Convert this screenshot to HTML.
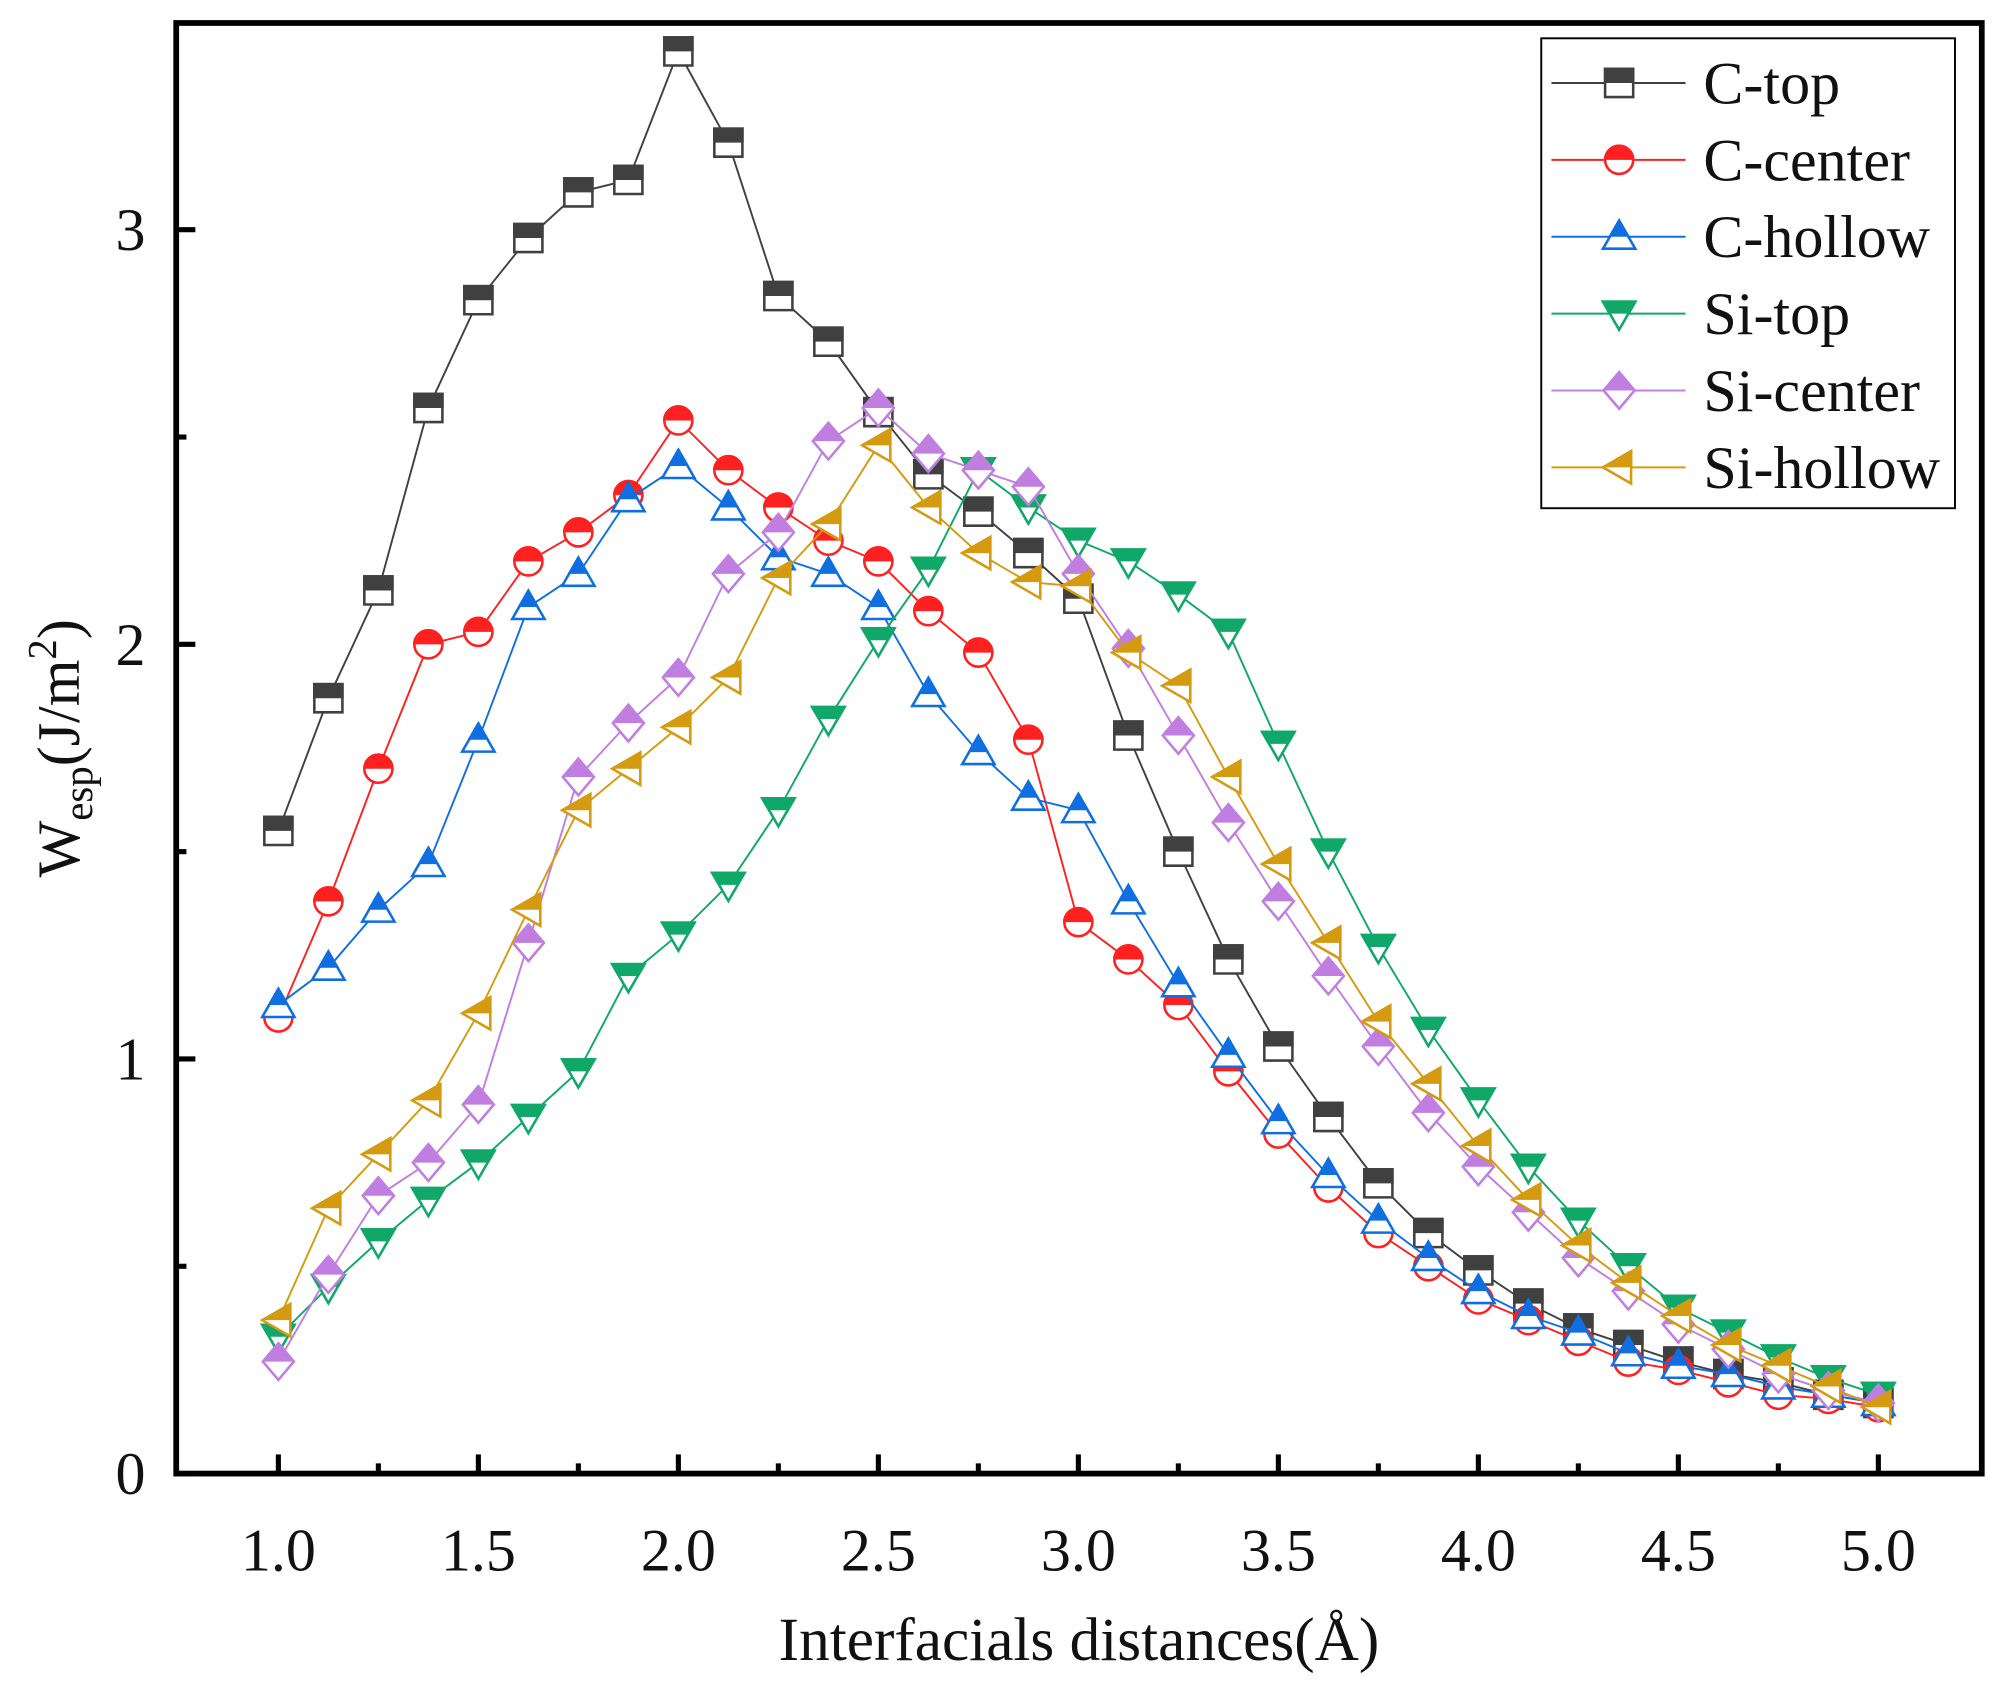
<!DOCTYPE html>
<html><head><meta charset="utf-8"><style>
html,body{margin:0;padding:0;background:#fff}
svg{display:block}
text{font-family:"Liberation Serif",serif;fill:#111}
</style></head><body>
<svg id="chart" width="1992" height="1683" viewBox="0 0 1560 1318" preserveAspectRatio="none" xmlns="http://www.w3.org/2000/svg">
<defs></defs>
<g id="series"></g>
<g id="axes"></g>
<g id="legend"></g>
</svg>
<script>
const xs=[1.0,1.125,1.25,1.375,1.5,1.625,1.75,1.875,2.0,2.125,2.25,2.375,2.5,2.625,2.75,2.875,3.0,3.125,3.25,3.375,3.5,3.625,3.75,3.875,4.0,4.125,4.25,4.375,4.5,4.625,4.75,4.875,5.0];
const cTop=[1.55,1.87,2.13,2.57,2.83,2.98,3.09,3.12,3.43,3.21,2.84,2.73,2.56,2.41,2.32,2.22,2.11,1.78,1.50,1.24,1.03,0.86,0.70,0.58,0.49,0.41,0.35,0.31,0.27,0.24,0.22,0.19,0.17];
const cCenter=[1.10,1.38,1.70,2.00,2.03,2.20,2.27,2.36,2.54,2.42,2.33,2.25,2.20,2.08,1.98,1.77,1.33,1.24,1.13,0.97,0.82,0.69,0.58,0.50,0.42,0.37,0.32,0.27,0.25,0.22,0.19,0.18,0.16];
const cHollow=[1.13,1.22,1.36,1.47,1.77,2.09,2.17,2.35,2.43,2.33,2.21,2.17,2.09,1.88,1.74,1.63,1.60,1.38,1.18,1.01,0.85,0.72,0.61,0.52,0.44,0.38,0.34,0.29,0.26,0.24,0.21,0.19,0.17];
const siTop=[0.33,0.45,0.56,0.66,0.75,0.86,0.97,1.20,1.30,1.42,1.60,1.82,2.01,2.18,2.42,2.33,2.25,2.20,2.12,2.03,1.76,1.50,1.27,1.07,0.90,0.74,0.61,0.50,0.40,0.34,0.28,0.23,0.19];
const siCenter=[0.27,0.48,0.67,0.75,0.89,1.28,1.68,1.81,1.92,2.17,2.27,2.49,2.57,2.46,2.42,2.38,2.17,1.99,1.78,1.57,1.38,1.20,1.03,0.87,0.74,0.63,0.52,0.44,0.36,0.30,0.24,0.20,0.17];
const siHollow=[0.37,0.64,0.77,0.90,1.11,1.36,1.60,1.70,1.80,1.92,2.16,2.29,2.48,2.33,2.22,2.15,2.14,1.98,1.90,1.68,1.47,1.28,1.09,0.94,0.79,0.66,0.55,0.46,0.38,0.31,0.26,0.21,0.16];
const seriesNames=["C-top","C-center","C-hollow","Si-top","Si-center","Si-hollow"];
const seriesColors=["#404040","#ff2020","#0f6fe0","#10a868","#c07ee0","#d49a10"];
const seriesShapes=["square","circle","up","down","diamond","left"];
const xTicks=[1.0,1.5,2.0,2.5,3.0,3.5,4.0,4.5,5.0];
const xTickLabels=["1.0","1.5","2.0","2.5","3.0","3.5","4.0","4.5","5.0"];
const yTicks=[0,1,2,3];
const yTickLabels=["0","1","2","3"];
const yMinor=[0.5,1.5,2.5];
const allData=[cTop,cCenter,cHollow,siTop,siCenter,siHollow];

const NS="http://www.w3.org/2000/svg";
const L=138,R=1552,T=18,B=1154;
const sx=v=>218+(v-1)*(1471-218)/4;
const sy=v=>B-v*324.7;
function mk(tag,attrs,parent){const e=document.createElementNS(NS,tag);for(const k in attrs)e.setAttribute(k,attrs[k]);parent.appendChild(e);return e;}
let clipId=0;
const defs=document.querySelector('defs');
function shapePath(shape,x,y,s){
  if(shape==="square")return `M${x-s},${y-s}H${x+s}V${y+s}H${x-s}Z`;
  if(shape==="circle")return `M${x-s},${y}A${s},${s} 0 1 0 ${x+s},${y}A${s},${s} 0 1 0 ${x-s},${y}Z`;
  if(shape==="up")return `M${x},${y-s*1.15}L${x+s*1.15},${y+s*0.85}H${x-s*1.15}Z`;
  if(shape==="down")return `M${x},${y+s*1.15}L${x+s*1.15},${y-s*0.85}H${x-s*1.15}Z`;
  if(shape==="diamond")return `M${x},${y-s*1.3}L${x+s*1.1},${y}L${x},${y+s*1.3}L${x-s*1.1},${y}Z`;
  if(shape==="left")return `M${x-s*1.15},${y}L${x+s*0.85},${y-s*1.15}V${y+s*1.15}Z`;
}
function marker(shape,color,x,y,parent,name){
  const g=mk('g',{},parent);
  
  
  const s=11;
  const d=shapePath(shape,x,y,s);
  mk('path',{d:d,fill:'#fff',stroke:color,'stroke-width':2},g);
  const id='c'+(clipId++);
  const cp=mk('clipPath',{id:id},defs);
  mk('rect',{x:x-20,y:y-20,width:40,height:20},cp);
  mk('path',{d:d,fill:color,stroke:color,'stroke-width':2,'clip-path':`url(#${id})`},g);
}
const sg=document.getElementById('series');
allData.forEach((vals,i)=>{
  const g=mk('g',{},sg);
  
  
  const pts=xs.map((x,j)=>sx(x)+','+sy(vals[j])).join(' ');
  const pl=mk('polyline',{points:pts,fill:'none',stroke:seriesColors[i],'stroke-width':1.5},g);
  
  
  xs.forEach((x,j)=>marker(seriesShapes[i],seriesColors[i],sx(x),sy(vals[j]),g,'point-'+seriesNames[i].toLowerCase()));
});
const ag=document.getElementById('axes');
const frame=mk('rect',{x:L,y:T,width:R-L,height:B-T,fill:'none',stroke:'#000','stroke-width':4.5},ag);


xTicks.forEach((v,i)=>{
  mk('line',{x1:sx(v),x2:sx(v),y1:B,y2:B-15,stroke:'#000','stroke-width':4},ag);
  const t=mk('text',{x:sx(v),y:B+76,'text-anchor':'middle','font-size':47},ag);
  t.textContent=xTickLabels[i];
  
  
});
xTicks.slice(0,-1).forEach(v=>{mk('line',{x1:sx(v+0.25),x2:sx(v+0.25),y1:B,y2:B-8,stroke:'#000','stroke-width':4},ag);});
yTicks.forEach((v,i)=>{
  mk('line',{x1:L,x2:L+15,y1:sy(v),y2:sy(v),stroke:'#000','stroke-width':4},ag);
  const t=mk('text',{x:114,y:sy(v)+16,'text-anchor':'end','font-size':47},ag);
  t.textContent=yTickLabels[i];
  
  
});
yMinor.forEach(v=>{mk('line',{x1:L,x2:L+8,y1:sy(v),y2:sy(v),stroke:'#000','stroke-width':4},ag);});
const xl=mk('text',{x:845,y:1300,'text-anchor':'middle','font-size':48},ag);
xl.textContent='Interfacials distances(Å)';


const yl=mk('text',{x:0,y:0,'text-anchor':'middle','font-size':47,transform:'translate(62,586) rotate(-90)'},ag);
yl.innerHTML='W<tspan font-size="32" dy="10">esp</tspan><tspan dy="-10">(J/m</tspan><tspan font-size="32" dy="-18">2</tspan><tspan dy="18">)</tspan>';


const lg=document.getElementById('legend');


mk('rect',{x:1207,y:30,width:324,height:368,fill:'#fff',stroke:'#000','stroke-width':1.5},lg);
seriesNames.forEach((n,i)=>{
  const y=65+i*60.2;
  const e=mk('g',{},lg);
  
  
  mk('line',{x1:1215,x2:1320,y1:y,y2:y,stroke:seriesColors[i],'stroke-width':1.5},e);
  marker(seriesShapes[i],seriesColors[i],1268,y,e,'legend-marker');
  const t=mk('text',{x:1334,y:y+16,'font-size':47},e);
  t.textContent=n;
});
</script>
</body></html>
